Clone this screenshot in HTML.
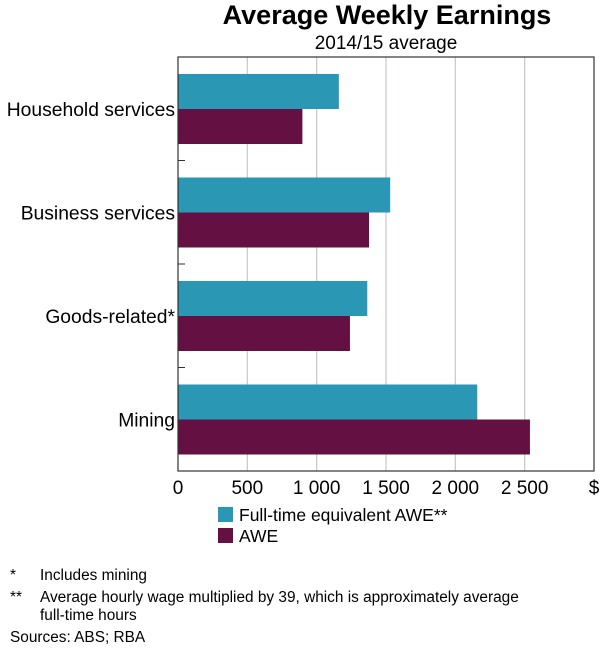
<!DOCTYPE html>
<html><head><meta charset="utf-8"><style>
body{margin:0;background:#fff;font-family:"Liberation Sans",Arial,sans-serif;}
svg text{font-family:"Liberation Sans",Arial,sans-serif;fill:#000;}
</style></head><body>
<svg id="chart" width="600" height="648" xmlns="http://www.w3.org/2000/svg">
<text x="387" y="24" font-size="27" font-weight="bold" text-anchor="middle">Average Weekly Earnings</text>
<text x="386" y="49" font-size="19" text-anchor="middle">2014/15 average</text>
<g id="grid"></g>
<g id="bars"></g>
<rect x="178" y="57" width="416" height="414" fill="none" stroke="#333" stroke-width="1.2"/>
<g id="axes"></g>
<rect x="218" y="507" width="15" height="15" fill="#2a97b4"/>
<text x="239" y="521" font-size="17.5">Full-time equivalent AWE**</text>
<rect x="218" y="528" width="15" height="15" fill="#651042"/>
<text x="239" y="542" font-size="17.5">AWE</text>
<g font-size="15.4">
<text x="10" y="580">*</text><text x="40" y="580">Includes mining</text>
<text x="10" y="602">**</text><text x="40" y="602">Average hourly wage multiplied by 39, which is approximately average</text>
<text x="40" y="620">full-time hours</text>
<text x="10" y="642">Sources:   ABS; RBA</text>
</g>
</svg>
<script>
const categories = ["Household services","Business services","Goods-related*","Mining"];
const fteValues = [1160, 1530, 1365, 2158];
const aweValues = [897, 1378, 1240, 2538];
const tickValues = [0, 500, 1000, 1500, 2000, 2500];
const tickLabels = ["0","500","1 000","1 500","2 000","2 500"];

const NS="http://www.w3.org/2000/svg";
const X0=178, X1=594, Y0=57, Y1=471, XMAX=3000;
const xs=v=>X0+(v/XMAX)*(X1-X0);
const band=(Y1-Y0)/categories.length;
function mk(tag,attrs,parent){const e=document.createElementNS(NS,tag);for(const k in attrs)e.setAttribute(k,attrs[k]);parent.appendChild(e);return e;}
const grid=document.getElementById('grid'),bars=document.getElementById('bars'),axes=document.getElementById('axes');
tickValues.forEach((v,i)=>{
  if(v>0){const l=mk('line',{x1:xs(v),x2:xs(v),y1:Y0,y2:Y1,stroke:'#c5c9cd','stroke-width':1.2},grid);
  
  }
  const t=mk('text',{x:xs(v),y:Y1+23,'font-size':19,'text-anchor':'middle'},axes);
  t.textContent=tickLabels[i];
  
  
});
const d=mk('text',{x:X1,y:Y1+23,'font-size':19,'text-anchor':'middle'},axes);
d.textContent='$';


categories.forEach((c,i)=>{
  const top=Y0+i*band;
  const b1=mk('rect',{x:X0,y:top+17,width:xs(fteValues[i])-X0,height:35,fill:'#2a97b4'},bars);
  
  
  const b2=mk('rect',{x:X0,y:top+52,width:xs(aweValues[i])-X0,height:35,fill:'#651042'},bars);
  
  
  const t=mk('text',{x:X0-3,y:top+band/2+7,'font-size':19.3,'text-anchor':'end'},axes);
  t.textContent=c;
  
  
  if(i>0){const tk=mk('line',{x1:X0,x2:X0+7,y1:top,y2:top,stroke:'#333','stroke-width':1},axes);
  
  }
});
</script>
</body></html>
